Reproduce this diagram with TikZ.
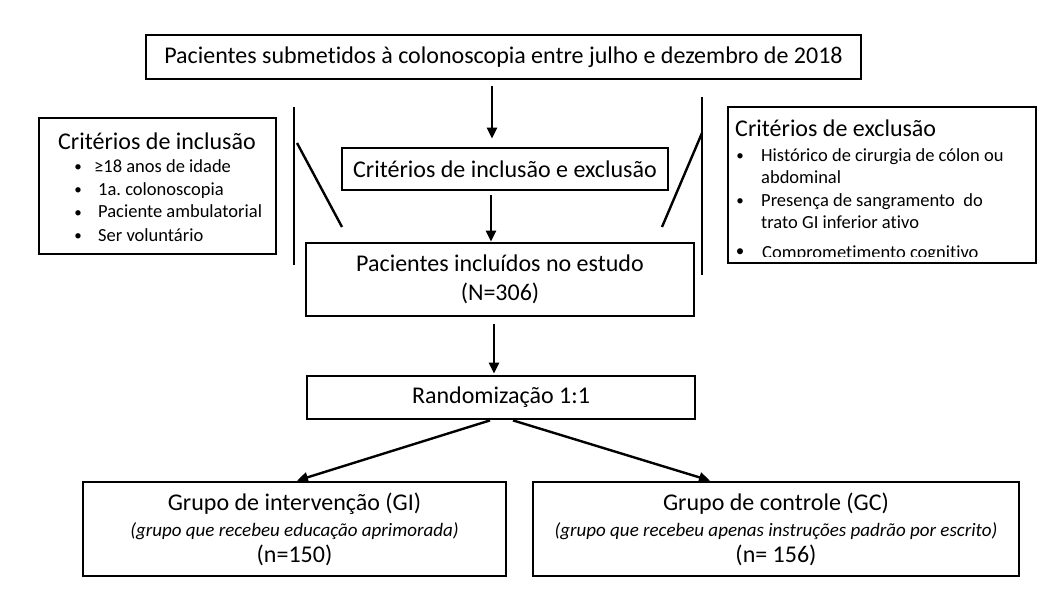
\documentclass[tikz,border=0pt]{standalone}
\usepackage{fontspec}
\setmainfont{Carlito}[Ligatures=NoCommon]
\usetikzlibrary{arrows.meta,calc}
\frenchspacing
\begin{document}
\begin{tikzpicture}[x=1pt,y=-1pt,
  box/.style={draw,line width=2.8pt,inner sep=0pt,align=center},
  arr/.style={line width=2.4pt,-{Triangle[length=11pt,width=10pt]}},
  sline/.style={line width=2.4pt},
  mainf/.style={font=\fontsize{24}{29}\selectfont},
  grpf/.style={font=\fontsize{24}{26}\selectfont},
  titlef/.style={font=\fontsize{24}{26}\selectfont},
  bulf/.style={font=\fontsize{18.5}{21}\selectfont},
  dotf/.style={inner sep=0pt,anchor=base,font=\fontsize{15}{21}\selectfont},
  txt/.style={inner sep=0pt,anchor=base west}]
\useasboundingbox (0,0) rectangle (1062,604);

% main boxes
\node[box,mainf,minimum width=715pt,minimum height=44pt] (top) at (503.5,57)
  {Pacientes submetidos à colonoscopia entre julho e dezembro de 2018};
\node[box,mainf,minimum width=326pt,minimum height=42pt] (crit) at (505,169)
  {Critérios de inclusão e exclusão};
\node[box,mainf,minimum width=388pt,minimum height=73pt] (pac) at (500,279.5)
  {Pacientes incluídos no estudo\\(N=306)};
\node[box,mainf,minimum width=388pt,minimum height=43pt] (rand) at (501,397.5)
  {Randomização 1:1};
\node[box,grpf,minimum width=423pt,minimum height=94pt] (gi) at (294.5,529)
  {Grupo de intervenção (GI)\\
   {\fontsize{19}{26}\selectfont\itshape (grupo que recebeu educação aprimorada)}\\
   (n=150)};
\node[box,grpf,minimum width=486pt,minimum height=94pt] (gc) at (776,529)
  {Grupo de controle (GC)\\
   {\fontsize{19}{26}\selectfont\itshape (grupo que recebeu apenas instruções padrão por escrito)}\\
   (n= 156)};

% criteria boxes
\node[box,minimum width=237pt,minimum height=136pt] (incl) at (157.5,186) {};
\node[txt,titlef] (inclt) at (58,150) {Critérios de inclusão};
\node[dotf] (ib1) at (78,172) {•};
\node[txt,bulf] (it1) at (94,173) {≥18 anos de idade};
\node[dotf] (ib2) at (78,195) {•};
\node[txt,bulf] (it2) at (98,196) {1a. colonoscopia};
\node[dotf] (ib3) at (78,217) {•};
\node[txt,bulf] (it3) at (98,218) {Paciente ambulatorial};
\node[dotf] (ib4) at (78,240) {•};
\node[txt,bulf] (it4) at (98,241) {Ser voluntário};

\begin{scope}
\clip (728,107) rectangle (1036,256.5);
\node[txt,titlef] (exclt) at (735,137) {Critérios de exclusão};
\node[dotf] (eb1) at (740,161) {•};
\node[txt,bulf] (et1) at (761,162) {Histórico de cirurgia de cólon ou};
\node[txt,bulf] (et1b) at (761,183) {abdominal};
\node[dotf] (eb2) at (740,205) {•};
\node[txt,bulf] (et2) at (761,206) {Presença de sangramento\ \ do};
\node[txt,bulf] (et2b) at (761,228) {trato GI inferior ativo};
\node[dotf,font=\fontsize{17}{21}\selectfont] (eb3) at (740,256) {•};
\node[txt,bulf] (et3) at (762,258) {Comprometimento cognitivo};
\end{scope}
\node[box,minimum width=308pt,minimum height=156pt] (excl) at (882,185) {};

% side lines
\draw[sline] (294,107) -- (294,265);
\draw[sline] (297,143) -- (342,227);
\draw[sline] (702,97) -- (702,275);
\draw[sline] (702,133) -- (662,227);

% arrows
\draw[arr] ($(top.south)+(-11.5,6)$) -- ($(crit.north)+(-13,-8)$);
\draw[arr] ($(crit.south)+(-14,4)$) -- ($(pac.north)+(-9,0)$);
\draw[arr] ($(pac.south)+(-6,7)$) -- ($(rand.north)+(-7,-1)$);
\draw[arr] ($(rand.south)+(-11,0)$) -- ($(gi.north)+(2.5,0)$);
\draw[arr] ($(rand.south)+(12,0)$) -- ($(gc.north)+(-66,0)$);
\end{tikzpicture}
\end{document}
